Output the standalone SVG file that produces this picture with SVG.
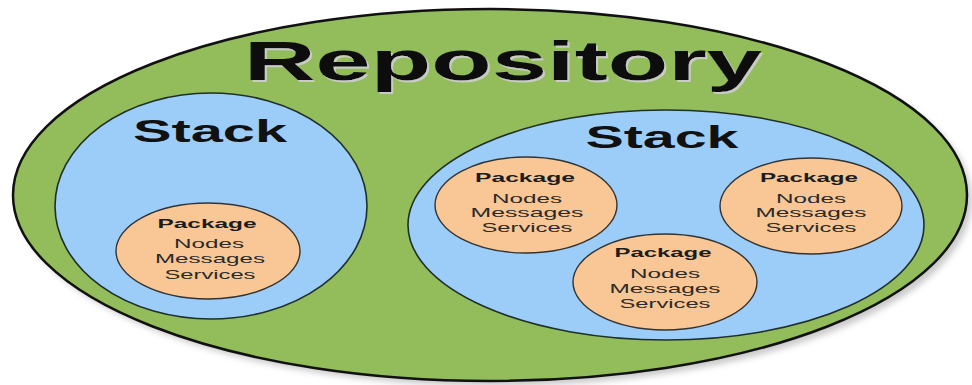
<svg xmlns="http://www.w3.org/2000/svg" width="972" height="385" viewBox="0 0 972 385">
  <defs>
    <filter id="blur" x="-10%" y="-10%" width="120%" height="120%">
      <feGaussianBlur stdDeviation="3"/>
    </filter>
    <filter id="textshadow" x="-5%" y="-20%" width="110%" height="140%">
      <feDropShadow dx="2" dy="2" stdDeviation="0.6" flood-color="#c8ccc4" flood-opacity="1"/>
    </filter>
  </defs>
  <style>
    .repo { fill: #93BC5B; stroke: #111; stroke-width: 2.5; }
    .stack { fill: #9CCDF8; stroke: #1f2f2a; stroke-width: 1.6; }
    .pkg { fill: #F9C795; stroke: #333; stroke-width: 1.4; }
    text { font-family: "Liberation Sans", Arial, sans-serif; text-anchor: middle; }
    .title { font-size: 56px; font-weight: bold; fill: #0d0d0d; }
    .stack-label { font-size: 32px; font-weight: bold; fill: #111; }
    .pkg-title { font-size: 13.5px; font-weight: bold; fill: #1c1c1c; }
    .pkg-item { font-size: 13px; fill: #2a2a2a; }
  </style>

  <g id="repository">
    <ellipse cx="495" cy="200" rx="477" ry="186" fill="#c9c9c9" filter="url(#blur)"/>
    <ellipse class="repo" cx="490" cy="195" rx="477" ry="186"/>
    <text class="title" x="503" y="80" textLength="518" lengthAdjust="spacingAndGlyphs" filter="url(#textshadow)">Repository</text>
  </g>

  <g id="stack-left">
    <ellipse class="stack" cx="211" cy="206" rx="156" ry="113"/>
    <text class="stack-label" x="210" y="142" textLength="154" lengthAdjust="spacingAndGlyphs">Stack</text>
  </g>

  <g id="stack-right">
    <ellipse class="stack" cx="666" cy="225" rx="258" ry="115"/>
    <text class="stack-label" x="662" y="148" textLength="153" lengthAdjust="spacingAndGlyphs">Stack</text>
  </g>

  <g id="package-1">
    <ellipse class="pkg" cx="208" cy="251" rx="92" ry="48"/>
    <text class="pkg-title" x="207" y="228" textLength="99" lengthAdjust="spacingAndGlyphs">Package</text>
    <text class="pkg-item" x="209" y="248" textLength="70" lengthAdjust="spacingAndGlyphs">Nodes</text>
    <text class="pkg-item" x="210" y="263" textLength="110" lengthAdjust="spacingAndGlyphs">Messages</text>
    <text class="pkg-item" x="210" y="279" textLength="91" lengthAdjust="spacingAndGlyphs">Services</text>
  </g>

  <g id="package-2">
    <ellipse class="pkg" cx="526" cy="205" rx="91" ry="48"/>
    <text class="pkg-title" x="525" y="182" textLength="100" lengthAdjust="spacingAndGlyphs">Package</text>
    <text class="pkg-item" x="527" y="203" textLength="70" lengthAdjust="spacingAndGlyphs">Nodes</text>
    <text class="pkg-item" x="527" y="217" textLength="113" lengthAdjust="spacingAndGlyphs">Messages</text>
    <text class="pkg-item" x="527" y="232" textLength="91" lengthAdjust="spacingAndGlyphs">Services</text>
  </g>

  <g id="package-3">
    <ellipse class="pkg" cx="665" cy="282" rx="92" ry="48"/>
    <text class="pkg-title" x="663" y="257" textLength="97" lengthAdjust="spacingAndGlyphs">Package</text>
    <text class="pkg-item" x="665" y="278" textLength="70" lengthAdjust="spacingAndGlyphs">Nodes</text>
    <text class="pkg-item" x="665" y="293" textLength="111" lengthAdjust="spacingAndGlyphs">Messages</text>
    <text class="pkg-item" x="665" y="308" textLength="91" lengthAdjust="spacingAndGlyphs">Services</text>
  </g>

  <g id="package-4">
    <ellipse class="pkg" cx="811" cy="206" rx="91" ry="48"/>
    <text class="pkg-title" x="809" y="182" textLength="98" lengthAdjust="spacingAndGlyphs">Package</text>
    <text class="pkg-item" x="811" y="203" textLength="70" lengthAdjust="spacingAndGlyphs">Nodes</text>
    <text class="pkg-item" x="811" y="217" textLength="111" lengthAdjust="spacingAndGlyphs">Messages</text>
    <text class="pkg-item" x="811" y="232" textLength="91" lengthAdjust="spacingAndGlyphs">Services</text>
  </g>
</svg>
